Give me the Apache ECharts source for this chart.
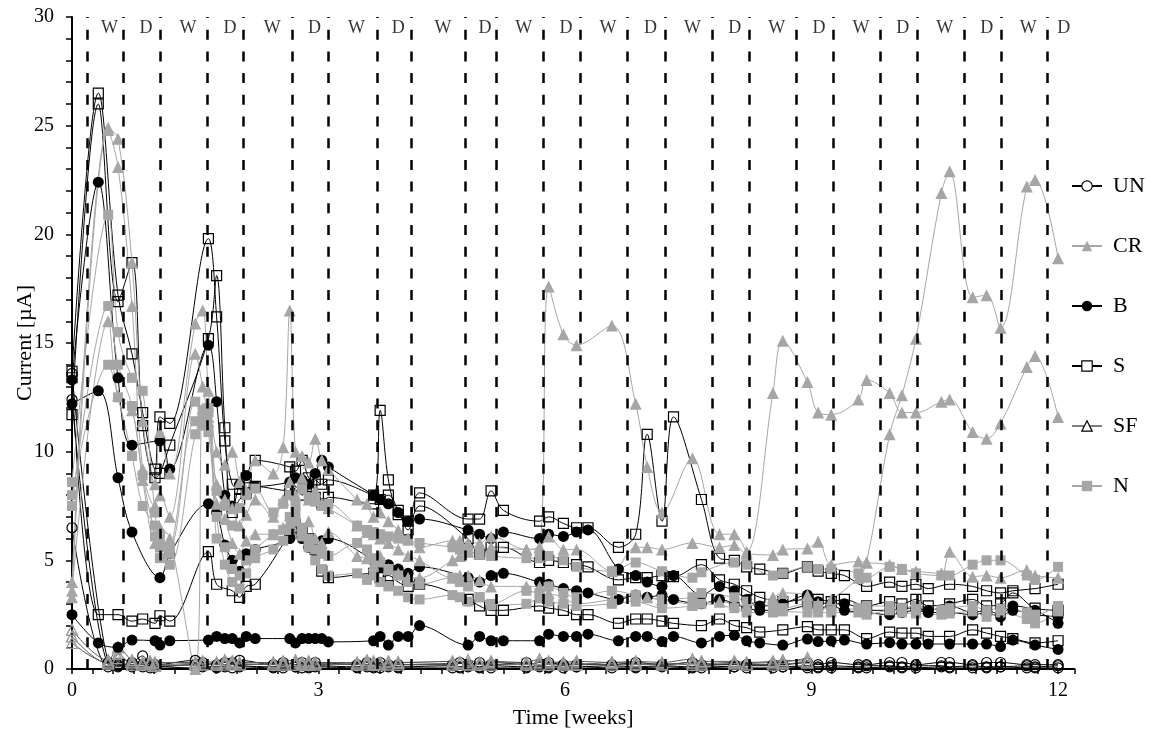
<!DOCTYPE html>
<html><head><meta charset="utf-8">
<script src="https://cdn.jsdelivr.net/npm/echarts@6/dist/echarts.min.js"></script>
<style>html,body{margin:0;padding:0;background:#fff}#c{width:1150px;height:733px}</style>
</head><body><div id="c"></div>
<script>
const _ = null;
// measurement times (weeks)
const T = [
0, 0.32, 0.44, 0.56, 0.73, 0.86, 0.95, 1.01, 1.07, 1.19,
1.5, 1.59, 1.66, 1.76, 1.86, 1.95, 2.04, 2.12, 2.23,
2.45, 2.57, 2.65, 2.72, 2.8, 2.88, 2.96, 3.04, 3.12,
3.47, 3.59, 3.67, 3.75, 3.85, 3.97, 4.09, 4.23,
4.63, 4.72, 4.82, 4.96, 5.1, 5.25,
5.53, 5.69, 5.8, 5.98, 6.14, 6.28,
6.57, 6.65, 6.86, 7.0, 7.18, 7.32,
7.55, 7.66, 7.88, 8.06, 8.21, 8.37,
8.53, 8.65, 8.95, 9.08, 9.24, 9.4,
9.57, 9.67, 9.95, 10.1, 10.27, 10.42,
10.58, 10.68, 10.96, 11.13, 11.3, 11.45,
11.62, 11.72, 12.0];

const UN1 = [13.6,_,0.3,0.2,0.3,0.6,0.2,0.2,_,_, 0.4,0.3,_,0.2,0.3,0.3,0.4,_,_, 0.2,0.3,_,0.2,0.3,0.2,0.3,_,_, 0.2,0.3,0.2,0.3,0.2,0.2,_,_, 0.2,0.3,0.2,0.3,0.2,_, 0.3,0.2,0.3,0.2,0.2,_, 0.2,_,0.3,_,0.2,_, 0.3,0.2,_,0.2,0.2,_, 0.2,0.2,0.3,0.2,0.3,_, 0.2,0.2,0.3,0.3,0.2,_, 0.3,0.3,0.2,0.3,0.3,_, 0.2,0.2,0.2];
const UN2 = [12.4,_,0.2,0.15,0.2,0.2,0.15,0.1,_,_, 0.2,0.15,_,0.1,0.15,0.2,0.15,_,_, 0.1,0.15,_,0.1,0.15,0.1,0.15,_,_, 0.1,0.15,0.1,0.15,0.15,0.1,_,_, 0.15,0.1,0.15,0.1,0.15,_, 0.1,0.15,0.1,0.15,0.1,_, 0.15,_,0.1,_,0.15,_, 0.1,0.15,_,0.1,0.15,_, 0.15,0.1,0.15,0.1,0.15,_, 0.1,0.15,0.15,0.1,0.15,_, 0.15,0.1,0.15,0.1,0.1,_, 0.15,0.1,0.15];
const UN3 = [6.5,_,0.1,0.1,0.1,0.1,0.05,0.1,_,_, 0.05,0.1,_,0.05,0.1,0.05,0.1,_,_, 0.05,0.05,_,0.1,0.05,0.05,0.1,_,_, 0.05,0.1,0.05,0.05,0.1,0.05,_,_, 0.05,0.05,0.1,0.05,0.05,_, 0.05,0.1,0.05,0.05,0.1,_, 0.05,_,0.05,_,0.1,_, 0.05,0.05,_,0.1,0.05,_, 0.05,0.1,0.05,0.05,0.05,_, 0.05,0.05,0.1,0.05,0.05,_, 0.1,0.05,0.05,0.05,0.1,_, 0.05,0.05,0.05];

const CR1 = [4.0,_,24.9,24.4,18.7,11.4,_,8.5,10.9,9.0, 15.9,16.5,12.8,10.0,9.4,10.0,8.6,8.2,9.6, 9.0,10.2,16.5,10.0,9.8,9.5,10.6,9.6,9.2, 7.8,7.6,7.0,7.2,6.8,6.4,6.0,5.6, 5.9,5.9,5.8,5.8,6.1,_, 5.5,5.6,6.1,5.5,5.5,_, 4.5,_,5.6,5.6,5.5,_, 5.8,_,5.6,5.7,5.3,_, 5.25,5.5,5.55,5.86,4.8,_, 4.95,4.9,4.8,4.6,4.5,_, 4.4,5.4,4.25,4.3,4.2,_, 4.55,4.3,4.2];
const CR2 = [3.3,_,24.8,23.1,16.7,9.2,_,7.5,8.0,7.0, 14.5,13.0,11.4,8.5,7.8,7.4,6.6,7.1,7.8, 7.0,7.8,8.6,8.0,8.8,7.8,8.2,7.6,7.4, 6.6,6.3,6.2,6.0,5.8,5.5,5.2,5.0, 4.2,4.3,4.3,4.1,3.8,_, 3.8,3.8,3.5,3.3,3.0,_, 3.2,_,3.4,3.3,3.2,_, 3.0,_,3.1,3.0,2.9,_, 3.3,3.5,3.4,3.0,3.2,_, 4.2,4.9,10.8,12.6,15.2,_, 21.9,22.9,17.1,17.2,15.7,_, 22.2,22.5,18.9];
const CR3 = [3.6,_,16.0,12.6,11.9,8.7,_,5.8,6.5,6.0, 0.0,12.0,11.6,7.6,6.9,5.8,5.3,5.9,6.2, 6.2,6.5,6.8,7.0,6.4,6.8,6.0,5.8,6.3, 5.2,5.1,4.8,5.2,4.6,4.4,4.2,4.2, 5.0,5.2,5.4,5.3,5.6,_, 5.5,5.6,17.6,15.4,14.9,_, 15.8,_,12.2,9.3,7.2,_, 9.7,_,6.2,6.2,5.4,_, 12.7,15.1,13.2,11.8,11.7,_, 12.4,13.3,12.7,11.8,11.8,_, 12.3,12.4,10.9,10.6,11.3,_, 13.9,14.4,11.6];

const B1 = [13.3,22.4,_,13.4,10.3,_,_,_,10.5,9.2, _,_,14.9,12.3,8.0,7.5,8.5,8.9,8.4, _,_,8.6,8.8,8.7,8.5,9.0,9.6,9.3, _,_,8.0,7.8,7.6,7.2,6.8,6.9, _,_,6.4,6.2,6.0,6.3, _,6.0,6.2,6.1,6.3,6.4, _,4.6,4.3,4.0,3.8,4.3, _,3.4,3.8,3.6,3.2,2.9, _,3.0,3.4,3.1,3.0,3.0, _,2.7,2.7,2.8,2.8,2.7, _,2.9,2.6,2.7,2.5,2.9, _,2.7,2.1];
const B2 = [12.2,12.8,_,8.8,6.3,_,_,_,4.2,5.3, _,_,7.6,7.2,5.7,5.0,4.5,5.3,5.5, _,_,6.0,6.8,6.0,5.6,5.4,5.9,6.0, _,_,5.0,4.7,4.8,4.6,4.4,4.7, _,_,4.2,4.0,4.3,4.4, _,4.0,3.9,3.7,3.6,3.5, _,3.2,3.4,3.3,3.4,3.2, _,3.0,3.2,3.0,2.8,2.7, _,2.7,2.9,2.8,2.9,2.7, _,2.6,2.5,2.6,2.7,2.6, _,2.6,2.5,2.6,2.4,2.7, _,2.5,2.4];
const B3 = [2.5,1.2,_,1.0,1.33,_,_,1.3,1.1,1.3, _,_,1.33,1.5,1.4,1.4,1.2,1.5,1.4, _,_,1.4,1.2,1.4,1.4,1.4,1.4,1.25, _,_,1.3,1.5,1.1,1.5,1.5,2.0, _,_,1.1,1.5,1.3,1.3, _,1.3,1.6,1.5,1.5,1.6, _,1.3,1.5,1.5,1.26,1.5, _,1.2,1.5,1.55,1.3,1.2, _,1.1,1.38,1.26,1.29,1.33, _,1.15,1.21,1.15,1.15,1.15, _,1.15,1.15,1.15,1.03,1.33, _,1.1,0.9];

const S1 = [13.7,26.5,_,17.2,14.5,11.8,_,9.2,11.6,11.3, _,_,19.8,16.2,10.5,8.5,8.3,8.8,9.6, _,_,9.3,9.1,9.6,8.8,8.7,8.5,8.7, _,_,8.0,11.9,8.7,7.1,6.8,8.1, _,_,6.9,6.9,8.2,7.3, _,6.8,7.0,6.7,6.5,6.5, _,5.6,6.2,10.8,6.8,11.6, _,7.8,5.1,5.0,4.7,4.6, _,4.4,4.7,4.5,4.4,4.3, _,3.8,4.0,3.8,3.9,3.7, _,3.9,3.8,3.6,3.5,3.6, _,3.7,3.9];
const S2 = [11.7,26.0,_,16.9,18.7,11.2,_,8.8,9.0,10.3, _,_,15.2,18.1,11.1,7.2,7.8,8.1,8.4, _,_,8.2,8.4,8.0,8.4,7.9,7.6,7.9, _,_,7.6,7.8,8.0,7.3,6.4,7.5, _,_,6.0,5.3,5.6,5.6, _,4.9,5.0,4.9,4.8,4.7, _,4.1,4.2,4.2,4.3,4.25, _,4.8,4.1,3.9,3.6,3.3, _,3.1,3.2,3.2,3.1,3.2, _,2.9,3.1,3.0,3.2,2.9, _,3.0,3.2,2.9,3.0,3.5, _,2.8,2.7];
const S3 = [13.4,2.5,_,2.5,2.2,2.3,_,2.1,2.45,2.2, _,_,5.4,3.9,_,3.6,3.3,3.8,3.9, _,_,6.2,6.5,6.3,6.0,5.5,4.5,4.2, _,_,4.4,4.2,4.3,4.0,3.8,3.9, _,_,3.2,2.9,2.7,2.7, _,2.9,2.8,2.7,2.5,2.5, _,2.1,2.3,2.3,2.2,2.1, _,2.0,2.3,2.0,1.9,1.7, _,1.8,1.95,1.8,1.8,1.8, _,1.4,1.7,1.65,1.65,1.5, _,1.5,1.8,1.65,1.5,1.4, _,1.2,1.3];

const SF1 = [1.8,_,0.4,1.0,0.4,0.3,0.35,0.3,_,_, 0.3,0.35,_,0.3,0.4,0.35,0.3,_,_, 0.3,0.35,_,0.4,0.3,0.35,0.3,_,_, 0.3,0.4,0.35,0.3,0.35,0.3,_,_, 0.35,0.3,0.4,0.3,0.35,_, 0.3,0.45,0.35,0.3,0.35,_, 0.3,_,0.35,_,0.3,_, 0.45,0.35,_,0.35,0.3,_, 0.35,0.4,0.35,_,_,_, _,_,_,_,_,_, _,_,_,_,_,_, _,_,_];
const SF2 = [1.2,_,0.3,0.5,0.3,0.25,0.3,0.2,_,_, 0.25,0.2,_,0.25,0.3,0.25,0.2,_,_, 0.25,0.2,_,0.3,0.25,0.2,0.25,_,_, 0.2,0.3,0.25,0.2,0.25,0.3,_,_, 0.25,0.3,0.2,0.25,0.3,_, 0.25,0.2,0.3,0.25,0.2,_, 0.3,_,0.25,_,0.2,_, 0.3,0.25,_,0.3,0.25,_, 0.3,0.25,0.3,_,_,_, _,_,_,_,_,_, _,_,_,_,_,_, _,_,_];
const SF3 = [1.5,_,0.25,0.7,0.2,0.2,0.25,0.15,_,_, 0.2,0.25,_,0.2,0.2,0.3,0.25,_,_, 0.2,0.25,_,0.2,0.2,0.25,0.2,_,_, 0.25,0.2,0.2,0.25,0.2,0.2,_,_, 0.2,0.25,0.25,0.2,0.2,_, 0.2,0.3,0.2,0.2,0.25,_, 0.2,_,0.2,_,0.25,_, 0.2,0.2,_,0.25,0.2,_, 0.2,0.3,0.5,_,_,_, _,_,_,_,_,_, _,_,_,_,_,_, _,_,_];

const N1 = [8.6,_,20.9,15.5,13.4,12.8,_,7.2,6.0,5.6, 12.3,11.9,12.0,8.2,7.5,6.6,7.4,8.0,8.3, 7.2,7.6,8.0,7.5,8.3,7.9,7.7,7.5,7.6, 6.6,6.4,6.3,6.2,6.1,6.0,5.9,5.8, 5.6,5.5,5.4,5.3,5.2,_, 5.1,5.1,5.2,5.0,4.7,_, 4.5,_,4.9,_,4.5,_, 4.2,4.45,_,4.9,4.8,_, 4.3,4.4,4.7,4.6,4.6,_, 4.4,4.2,4.7,4.6,4.4,_, 4.3,4.3,4.8,5.0,5.0,_, 4.3,4.1,4.7];
const N2 = [7.5,_,16.7,14.0,12.1,8.9,_,6.1,5.1,5.3, 11.4,11.2,11.8,6.0,5.6,4.6,4.3,5.0,5.5, 6.2,6.4,7.0,7.2,6.5,6.0,5.5,5.3,5.2, 5.8,5.5,5.1,4.9,4.6,4.3,4.0,3.9, 4.2,4.0,3.8,3.3,2.95,_, 3.0,3.25,3.1,3.0,2.9,_, 3.0,_,3.1,_,2.8,_, 2.9,3.0,_,2.8,2.6,_, 2.6,2.65,2.6,2.6,2.6,_, 2.6,2.5,2.7,2.6,2.55,_, 2.5,2.55,2.65,2.4,2.6,_, 2.3,2.1,2.65];
const N3 = [8.0,_,14.0,12.5,9.8,7.5,_,6.6,5.6,4.8, 10.8,11.5,10.9,7.0,4.8,4.0,3.7,4.4,5.1, 5.5,5.9,6.4,6.8,6.1,5.6,5.0,4.6,4.3, 4.4,4.1,4.3,4.0,3.8,3.6,3.3,3.2, 3.4,3.3,3.1,3.3,3.0,_, 3.6,3.5,3.8,3.5,3.3,_, 3.6,_,3.4,_,3.2,_, 3.3,3.5,_,3.3,3.1,_, 2.9,2.8,3.0,2.9,2.7,_, 2.8,2.9,2.9,2.8,2.9,_, 2.7,2.8,2.9,2.7,2.8,_, 2.6,2.5,2.9];

// wet/dry boundaries (weeks) and period labels
const WD_LINES = [0.186,0.624,1.075,1.651,2.093,2.681,3.119,3.708,4.134,4.795,5.156,5.741,6.183,6.763,7.217,7.785,8.243,8.811,9.27,9.833,10.287,10.856,11.306,11.869];
const WD_LABELS = ['W','D','W','D','W','D','W','D','W','D','W','D','W','D','W','D','W','D','W','D','W','D','W','D'];
const LEGEND_NAMES = ['UN','CR','B','S','SF','N'];

const FONT = "'Liberation Serif','Times New Roman',serif";
const GRAY = '#a6a6a6';
const NONE = 'rgba(0,0,0,0)';

const styles = {
  UN: {symbol:'circle', size:10, fill:NONE, stroke:'#000', bw:1.2, line:'#000'},
  SF: {symbol:'triangle', size:11, fill:NONE, stroke:'#999', bw:1.3, line:'#555'},
  S:  {symbol:'rect', size:10, fill:NONE, stroke:'#000', bw:1.2, line:'#000'},
  B:  {symbol:'circle', size:11, fill:'#000', stroke:'#000', bw:0, line:'#000'},
  CR: {symbol:'triangle', size:12, fill:GRAY, stroke:GRAY, bw:0, line:GRAY},
  N:  {symbol:'rect', size:10, fill:GRAY, stroke:GRAY, bw:0, line:GRAY}
};
const groups = [['UN',[UN1,UN2,UN3]],['SF',[SF1,SF2,SF3]],['S',[S1,S2,S3]],['B',[B1,B2,B3]],['CR',[CR1,CR2,CR3]],['N',[N1,N2,N3]]];

const series = [];
groups.forEach(([name, reps]) => {
  const st = styles[name];
  reps.forEach(arr => {
    series.push({
      name, type:'line', smooth:0.35, symbol:st.symbol, symbolSize:st.size,
      data: T.map((t,i)=>[t, arr[i]]).filter(d => d[1] !== null),
      lineStyle:{color:st.line, width:1},
      itemStyle:{color:st.fill, borderColor:st.stroke, borderWidth:st.bw},
      emphasis:{disabled:true}, silent:true
    });
  });
});

// label positions between boundaries
const bounds = WD_LINES.concat([WD_LINES[WD_LINES.length-1] + 0.3]);
const labelData = WD_LABELS.map((lab, i) => ({name: lab, value: [(bounds[i] + bounds[i+1]) / 2 + 0.05, 29.5]}));
series.push({
  type:'scatter', name:'_wd', data: labelData, symbol:'rect', symbolSize:1,
  itemStyle:{color:NONE}, silent:true, z:1,
  label:{show:true, position:'inside', formatter:'{b}', color:'#000', fontSize:18, fontFamily:FONT},
  markLine:{silent:true, symbol:['none','none'], animation:false,
    label:{show:false},
    lineStyle:{color:'#000', width:2.5, type:[10,11.7]},
    data: WD_LINES.map(x => ({xAxis:x}))
  }
});

const legendData = LEGEND_NAMES.map(n => {
  const st = styles[n];
  const o = {name:n};
  if (n === 'SF') { o.itemStyle = {color:'#fff', borderColor:'#000', borderWidth:1.2}; o.lineStyle = {color:'#000', width:1}; }
  else if (st.fill === NONE) { o.itemStyle = {color:'#fff', borderColor:st.stroke, borderWidth:1.2}; }
  return o;
});

const chart = echarts.init(document.getElementById('c'), null, {renderer:'canvas'});
chart.setOption({
  animation:false,
  backgroundColor:'#fff',
  grid:{left:72, right:75.5, top:17, bottom:64, containLabel:false, outerBoundsMode:'none'},
  legend:{orient:'vertical', left:1066, top:170, itemWidth:30, itemHeight:13, itemGap:38,
    data:legendData, selectedMode:false,
    textStyle:{fontSize:22, fontFamily:FONT, color:'#000', padding:[0,0,0,6]}},
  xAxis:{type:'value', min:0, max:12.2, interval:3,
    name:'Time [weeks]', nameLocation:'middle', nameGap:38, nameMoveOverlap:false,
    nameTextStyle:{fontSize:22, fontFamily:FONT, color:'#000'},
    axisLine:{show:true, lineStyle:{color:'#000', width:2}},
    axisTick:{show:true, length:5, lineStyle:{color:'#000', width:1.5}},
    minorTick:{show:true, splitNumber:12, length:5, lineStyle:{color:'#000', width:1.5}},
    splitLine:{show:false}, minorSplitLine:{show:false},
    axisLabel:{fontSize:20, fontFamily:FONT, color:'#000', margin:12,
      formatter: v => (Math.abs(v/3 - Math.round(v/3)) < 1e-6 ? String(v) : '')}
  },
  yAxis:{type:'value', min:0, max:30, interval:5,
    name:'Current [µA]', nameLocation:'middle', nameGap:36, nameRotate:90, nameMoveOverlap:false,
    nameTextStyle:{fontSize:22, fontFamily:FONT, color:'#000'},
    axisLine:{show:true, lineStyle:{color:'#000', width:2}},
    axisTick:{show:true, length:6, lineStyle:{color:'#000', width:1.5}},
    minorTick:{show:true, splitNumber:5, length:6, lineStyle:{color:'#000', width:1.5}},
    splitLine:{show:false},
    axisLabel:{fontSize:20, fontFamily:FONT, color:'#000', margin:18}
  },
  series
});
</script></body></html>
